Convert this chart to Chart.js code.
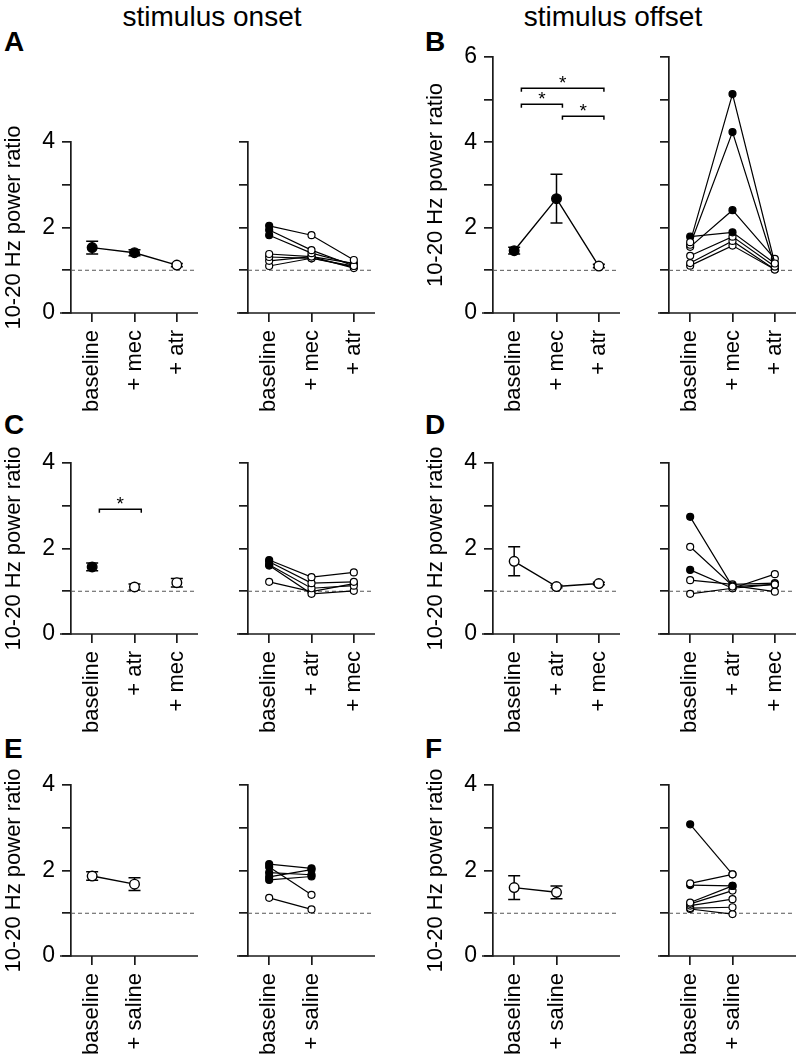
<!DOCTYPE html>
<html>
<head>
<meta charset="utf-8">
<script src="https://cdn.jsdelivr.net/npm/chart.js@4.4.1/dist/chart.umd.min.js"></script>
<style>
  body { margin: 0; width: 800px; height: 1055px; position: relative; overflow: hidden; background: #fff;
         font-family: "Liberation Sans", Arial, sans-serif; color: #000; }
  canvas { position: absolute; }
  .letter { position: absolute; font-weight: bold; font-size: 28px; line-height: 28px; }
  .head { position: absolute; font-size: 28px; line-height: 28px; width: 300px; text-align: center; }
</style>
</head>
<body>
<div class="head" style="left:62px;top:3px">stimulus onset</div>
<div class="head" style="left:463px;top:3px">stimulus offset</div>
<div class="letter" style="left:4px;top:28px">A</div>
<div class="letter" style="left:425px;top:28px">B</div>
<div class="letter" style="left:4px;top:411px">C</div>
<div class="letter" style="left:425px;top:411px">D</div>
<div class="letter" style="left:4px;top:735px">E</div>
<div class="letter" style="left:425px;top:735px">F</div>

<script>
// categories
const catsMecAtr = ['baseline', '+ mec', '+ atr'];
const catsAtrMec = ['baseline', '+ atr', '+ mec'];
const catsSaline = ['baseline', '+ saline', ''];

// A: onset, mecamylamine then atropine
const aMean = [1.53, 1.41, 1.12];
const aErr = [0.15, 0.07, 0.04];
const aMeanFill = [1, 1, 0];
const aSubj = [[2.04, 1.82, 1.24], [1.94, 1.47, 1.10], [1.82, 1.40, 1.14], [1.38, 1.32, 1.16],
               [1.31, 1.28, 1.10], [1.22, 1.32, 1.05], [1.10, 1.28, 1.08]];
const aSubjFill = [[1, 0, 0], [1, 0, 0], [1, 0, 0], [0, 0, 0], [0, 0, 0], [0, 0, 0], [0, 0, 0]];

// B: offset, mecamylamine then atropine
const bMean = [1.46, 2.68, 1.10];
const bErr = [0.08, 0.57, 0.04];
const bMeanFill = [1, 1, 0];
const bSubj = [[1.66, 5.13, 1.16], [1.60, 4.24, 1.09], [1.55, 2.41, 1.27], [1.79, 1.89, 1.16],
               [1.34, 1.79, 1.09], [1.17, 1.69, 1.02], [1.11, 1.58, 1.02]];
const bSubjFill = [[0, 1, 0], [0, 1, 0], [0, 1, 0], [1, 1, 0], [0, 0, 0], [0, 0, 0], [0, 0, 0]];
const bSig = [{ from: 0.17, to: 2.12, y: 5.27 }, { from: 0.17, to: 1.14, y: 4.89 }, { from: 1.14, to: 2.12, y: 4.61 }];

// C: onset, atropine then mecamylamine
const cMean = [1.57, 1.10, 1.20];
const cErr = [0.09, 0.07, 0.10];
const cMeanFill = [1, 0, 0];
const cSubj = [[1.73, 1.33, 1.44], [1.69, 1.19, 1.22], [1.62, 1.07, 1.13], [1.60, 0.94, 1.01], [1.22, 0.99, 1.18]];
const cSubjFill = [[1, 0, 0], [1, 0, 0], [1, 0, 0], [1, 0, 0], [0, 0, 0]];
const cSig = [{ from: 0.17, to: 1.16, y: 2.92 }];

// D: offset, atropine then mecamylamine
const dMean = [1.70, 1.11, 1.18];
const dErr = [0.34, 0.03, 0.03];
const dMeanFill = [0, 0, 0];
const dSubj = [[2.74, 1.11, 1.16], [2.04, 1.13, 0.99], [1.50, 1.07, 1.16], [1.26, 1.16, 1.19], [0.94, 1.07, 1.40]];
const dSubjFill = [[1, 0, 0], [0, 0, 0], [1, 0, 0], [0, 0, 0], [0, 0, 0]];

// E: onset, saline
const eMean = [1.87, 1.68];
const eErr = [0.10, 0.15];
const eMeanFill = [0, 0];
const eSubj = [[2.15, 2.05], [2.08, 1.43], [1.95, 1.90], [1.85, 2.02], [1.78, 1.86], [1.36, 1.09]];
const eSubjFill = [[1, 1], [1, 0], [1, 1], [1, 1], [1, 1], [0, 0]];

// F: offset, saline
const fMean = [1.60, 1.49];
const fErr = [0.28, 0.15];
const fMeanFill = [0, 0];
const fSubj = [[3.08, 1.91], [1.70, 1.91], [1.66, 1.64], [1.25, 1.64], [1.22, 1.53],
               [1.18, 1.33], [1.12, 1.14], [1.10, 0.98]];
const fSubjFill = [[1, 0], [0, 0], [1, 1], [0, 1], [0, 0], [0, 0], [0, 0], [0, 0]];

const AXIS = '#1a1a1a';
Chart.defaults.font.family = '"Liberation Sans", Arial, sans-serif';
Chart.defaults.color = '#000';

// layout of the 12 small plots (y-axis x position, top / bottom pixel of the axis)
const PLOT_W = 127, PAD_L = 2, PAD_T = 30, PAD_R = 16, PAD_B = 5, X_H = 110;
const plots = [
  { ax: 71,  top: 142, bot: 313, ymax: 4, left: true, labels: catsMecAtr, mean: aMean, err: aErr, fill: aMeanFill },
  { ax: 248, top: 142, bot: 313, ymax: 4, labels: catsMecAtr, subj: aSubj, sfill: aSubjFill },
  { ax: 493, top: 57,  bot: 313, ymax: 6, left: true, labels: catsMecAtr, mean: bMean, err: bErr, fill: bMeanFill, sig: bSig },
  { ax: 669, top: 57,  bot: 313, ymax: 6, labels: catsMecAtr, subj: bSubj, sfill: bSubjFill },
  { ax: 71,  top: 463, bot: 634, ymax: 4, left: true, labels: catsAtrMec, mean: cMean, err: cErr, fill: cMeanFill, sig: cSig, noLine: true },
  { ax: 248, top: 463, bot: 634, ymax: 4, labels: catsAtrMec, subj: cSubj, sfill: cSubjFill },
  { ax: 493, top: 463, bot: 634, ymax: 4, left: true, labels: catsAtrMec, mean: dMean, err: dErr, fill: dMeanFill },
  { ax: 669, top: 463, bot: 634, ymax: 4, labels: catsAtrMec, subj: dSubj, sfill: dSubjFill },
  { ax: 71,  top: 785, bot: 956, ymax: 4, left: true, labels: catsSaline, mean: eMean, err: eErr, fill: eMeanFill },
  { ax: 248, top: 785, bot: 956, ymax: 4, labels: catsSaline, subj: eSubj, sfill: eSubjFill },
  { ax: 493, top: 785, bot: 956, ymax: 4, left: true, labels: catsSaline, mean: fMean, err: fErr, fill: fMeanFill },
  { ax: 669, top: 785, bot: 956, ymax: 4, labels: catsSaline, subj: fSubj, sfill: fSubjFill }
];

// dashed reference line, extended x axis, error bars, significance brackets
const decor = {
  id: 'decor',
  beforeDatasetsDraw(chart) {
    const { ctx, chartArea: a, scales: { x, y } } = chart;
    ctx.save();
    const y1 = y.getPixelForValue(1);
    ctx.strokeStyle = '#555';
    ctx.lineWidth = 1;
    ctx.setLineDash([4, 3]);
    ctx.beginPath(); ctx.moveTo(a.left, y1); ctx.lineTo(a.right - 2, y1); ctx.stroke();
    ctx.setLineDash([]);
    ctx.strokeStyle = AXIS;
    ctx.lineWidth = 1.7;
    ctx.beginPath(); ctx.moveTo(a.left - 11, a.bottom); ctx.lineTo(a.right, a.bottom); ctx.stroke();

    ctx.strokeStyle = '#000';
    ctx.lineWidth = 1.5;
    chart.data.datasets.forEach(ds => {
      if (!ds.err) return;
      ds.data.forEach((v, i) => {
        const px = x.getPixelForValue(i);
        const hi = y.getPixelForValue(v + ds.err[i]);
        const lo = y.getPixelForValue(v - ds.err[i]);
        ctx.beginPath();
        ctx.moveTo(px, hi); ctx.lineTo(px, lo);
        ctx.moveTo(px - 6, hi); ctx.lineTo(px + 6, hi);
        ctx.moveTo(px - 6, lo); ctx.lineTo(px + 6, lo);
        ctx.stroke();
      });
    });
    ctx.restore();
  },
  afterDatasetsDraw(chart, args, opts) {
    if (!opts.sig) return;
    const { ctx, scales: { x, y } } = chart;
    ctx.save();
    ctx.strokeStyle = '#000';
    ctx.lineWidth = 1.5;
    ctx.fillStyle = '#000';
    ctx.font = '19px "Liberation Sans", Arial, sans-serif';
    ctx.textAlign = 'center';
    ctx.textBaseline = 'alphabetic';
    opts.sig.forEach(s => {
      const xa = x.getPixelForValue(s.from), xb = x.getPixelForValue(s.to), py = y.getPixelForValue(s.y);
      ctx.beginPath();
      ctx.moveTo(xa, py + 3.5); ctx.lineTo(xa, py); ctx.lineTo(xb, py); ctx.lineTo(xb, py + 3.5);
      ctx.stroke();
      ctx.fillText('*', (xa + xb) / 2, py + 1);
    });
    ctx.restore();
  }
};

function dot(fill) { return fill.map(f => f ? '#000' : '#fff'); }

plots.forEach(p => {
  const yw = p.left ? 70 : 20;
  const cv = document.createElement('canvas');
  const w = PAD_L + yw + PLOT_W + PAD_R;
  const h = PAD_T + (p.bot - p.top) + X_H + PAD_B;
  cv.width = w; cv.height = h;
  cv.style.left = (p.ax - yw - PAD_L) + 'px';
  cv.style.top = (p.top - PAD_T) + 'px';
  document.body.appendChild(cv);

  let datasets;
  if (p.mean) {
    datasets = [{
      data: p.mean, err: p.err, showLine: !p.noLine,
      borderColor: '#000', borderWidth: 1.4, tension: 0,
      pointRadius: 4.8, pointBorderWidth: 1.4, pointBorderColor: '#000',
      pointBackgroundColor: dot(p.fill)
    }];
  } else {
    datasets = p.subj.map((row, k) => ({
      data: row, borderColor: '#000', borderWidth: 1.2, tension: 0,
      pointRadius: 3.5, pointBorderWidth: 1.2, pointBorderColor: '#000',
      pointBackgroundColor: dot(p.sfill[k])
    }));
  }

  new Chart(cv, {
    type: 'line',
    data: { labels: p.labels, datasets },
    plugins: [decor],
    options: {
      responsive: false,
      animation: false,
      layout: { padding: { left: PAD_L, top: PAD_T, right: PAD_R, bottom: PAD_B } },
      plugins: { legend: { display: false }, tooltip: { enabled: false }, decor: { sig: p.sig } },
      scales: {
        x: {
          type: 'category', offset: true,
          border: { display: false },
          grid: {
            drawOnChartArea: false, tickLength: 9, lineWidth: 1.7,
            tickColor: c => p.labels[c.index] ? AXIS : 'rgba(0,0,0,0)'
          },
          ticks: { minRotation: 90, maxRotation: 90, autoSkip: false, padding: 8, color: '#000', font: { size: 22 } },
          afterFit: s => { s.height = X_H; }
        },
        y: {
          min: 0, max: p.ymax,
          border: { display: true, color: AXIS, width: 1.7 },
          grid: { drawOnChartArea: false, tickLength: 9, lineWidth: 1.7, tickColor: AXIS },
          ticks: {
            stepSize: 1, padding: 7, color: '#000', font: { size: 23 },
            callback: v => (p.left && v % 2 === 0) ? v : ''
          },
          title: p.left
            ? { display: true, text: '10-20 Hz power ratio', font: { size: 22 }, color: '#000', padding: { top: 0, bottom: 0 } }
            : { display: false },
          afterFit: s => { s.width = yw; }
        }
      }
    }
  });
});
</script>
</body>
</html>
